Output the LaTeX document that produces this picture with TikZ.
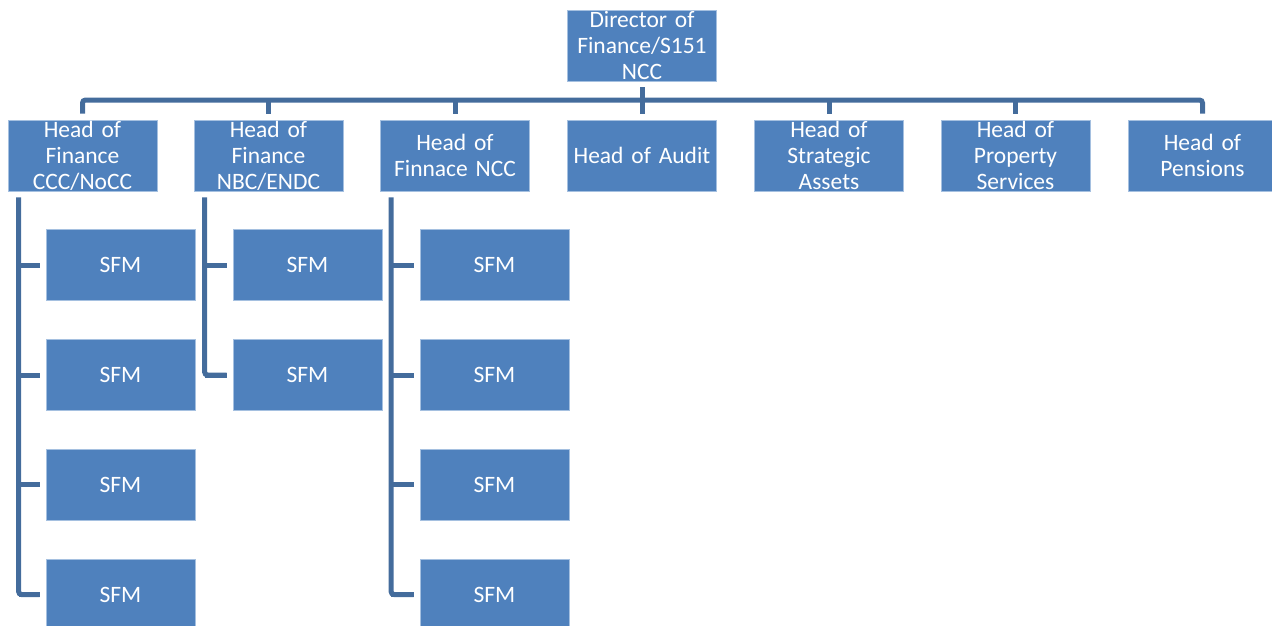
\documentclass[tikz,border=0pt]{standalone}
\usepackage{fontspec}
\setmainfont{Carlito}
\usetikzlibrary{calc}
\definecolor{boxfill}{RGB}{79,129,189}
\definecolor{boxedge}{RGB}{165,192,224}
\definecolor{linkcol}{RGB}{68,108,156}
\begin{document}
\begin{tikzpicture}[x=1pt,y=-1pt,
  orgbox/.style={rectangle, fill=boxfill, draw=boxedge, line width=0.8pt,
    minimum width=149pt, minimum height=71pt, inner sep=0pt,
    text width=147pt, align=center, text=white,
    font=\fontsize{23.5}{26}\selectfont},
  link/.style={draw=linkcol, line width=5pt, rounded corners=3pt}]
\useasboundingbox (0,0) rectangle (1272,625);

% top of the tree
\node[orgbox] (dir) at (642,45.5) {Director of\\Finance/S151\\NCC};

% second level
\node[orgbox] (h1) at (82.5,155.5)  {Head of\\Finance\\CCC/NoCC};
\node[orgbox] (h2) at (268.5,155.5) {Head of\\Finance\\NBC/ENDC};
\node[orgbox] (h3) at (455,155.5)   {Head of\\Finnace NCC};
\node[orgbox] (h4) at (642,155.5)   {Head of Audit};
\node[orgbox] (h5) at (829,155.5)   {Head of\\Strategic\\Assets};
\node[orgbox] (h6) at (1015.5,155.5){Head of\\Property\\Services};
\node[orgbox] (h7) at (1202.5,155.5){Head of\\Pensions};

% SFM boxes
\foreach \r/\y in {1/265,2/375,3/484.5,4/594.5}{
  \node[orgbox] (a\r) at (120.5,\y) {SFM};
  \node[orgbox] (c\r) at (494.5,\y) {SFM};
}
\foreach \r/\y in {1/265,2/375}{
  \node[orgbox] (b\r) at (307.5,\y) {SFM};
}

% horizontal bus
\coordinate (bus) at (0,100);
\draw[link] ($(h1.north)+(0,-6)$) -- (h1.north |- bus) -- (h7.north |- bus) -- ($(h7.north)+(0,-6)$);
\draw[link] ($(dir.south)+(0,6)$) -- (dir.south |- bus);
\foreach \h in {h2,h3,h4,h5,h6}{
  \draw[link] (\h.north |- bus) -- ($(\h.north)+(0,-6)$);
}

% vertical spines with ticks
\foreach \h/\s/\n in {h1/a/4,h2/b/2,h3/c/4}{
  \coordinate (\h top) at ($(\h.south west)+(11,6)$);
  \draw[link] (\h top) |- ($(\s\n.west)+(-6,0)$);
  \foreach \k in {1,...,\n}{
    \draw[link, rounded corners=0pt] (\h top |- \s\k.west) -- ($(\s\k.west)+(-6,0)$);
  }
}
\end{tikzpicture}
\end{document}
